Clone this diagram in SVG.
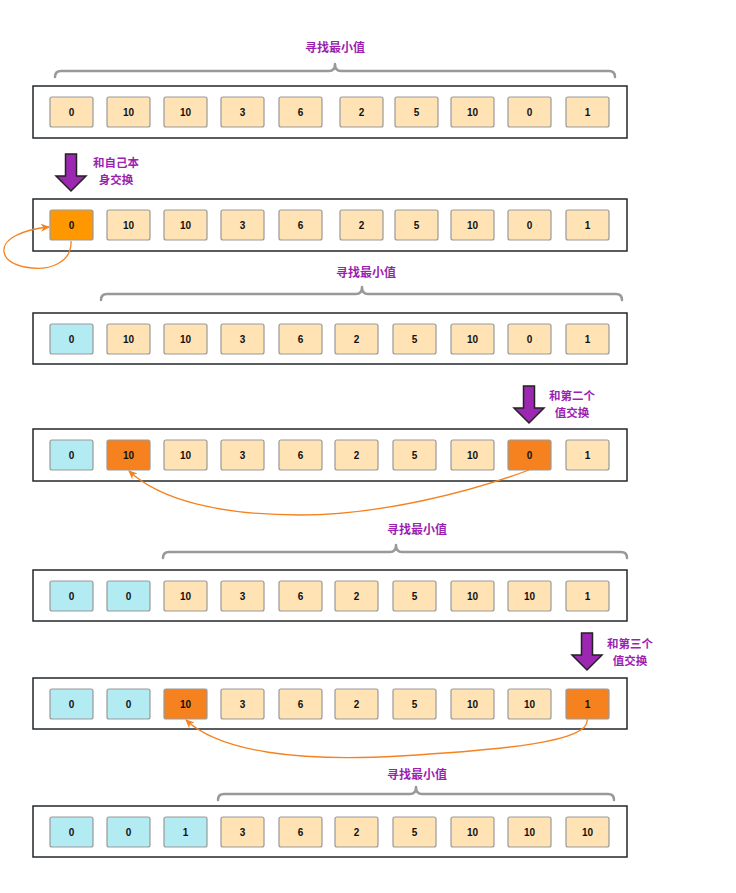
<svg xmlns="http://www.w3.org/2000/svg" width="736" height="893" viewBox="0 0 736 893">
<style>
.row{fill:#fff;stroke:#23272b;stroke-width:1.5}
.c{stroke:#999;stroke-width:1.2}
.n{fill:#FFE3B5}
.b{fill:#B2EBF2}
.o{fill:#F5821F}
.o2{fill:#FF9800}
.t{font-family:"Liberation Sans",Arial,sans-serif;font-size:10px;font-weight:bold;fill:#111;text-anchor:middle;dominant-baseline:central}
.lbl{font-family:"Noto Sans CJK SC","Noto Sans",sans-serif;font-size:12px;font-weight:bold;fill:#9C1FB0;text-anchor:middle}
.lb2{font-size:11.5px}
.brace{fill:none;stroke:#999;stroke-width:2.5;stroke-linecap:round;stroke-linejoin:round}
.arr{fill:#9C27B0;stroke:#222;stroke-width:1.5;stroke-linejoin:miter}
.sw{fill:none;stroke:#F5821F;stroke-width:1.3}
</style>
<defs>
<marker id="ah" markerWidth="10" markerHeight="8" refX="8" refY="4" orient="auto" markerUnits="userSpaceOnUse">
<path d="M0,0 L9,4 L0,8 L2.5,4 Z" fill="#F5821F"/>
</marker>
<g id="arrowshape"><path class="arr" d="M-5.5,0 H5.5 V22 H15 L0,37 L-15,22 H-5.5 Z"/></g>
</defs>

<!-- Braces and labels -->
<g id="brace1">
<text class="lbl" x="335" y="52">寻找最小值</text>
<path class="brace" d="M55,77 Q55,71 61,71 H329 Q335,71 335,64 Q335,71 341,71 H609 Q615,71 615,77"/>
</g>
<g id="brace3">
<text class="lbl" x="366" y="277">寻找最小值</text>
<path class="brace" d="M101,300 Q101,294 107,294 H356 Q362,294 362,287 Q362,294 368,294 H616 Q622,294 622,300"/>
</g>
<g id="brace5">
<text class="lbl" x="417" y="534">寻找最小值</text>
<path class="brace" d="M163,558 Q163,552 169,552 H390 Q396,552 396,545 Q396,552 402,552 H621 Q627,552 627,558"/>
</g>
<g id="brace7">
<text class="lbl" x="417" y="779">寻找最小值</text>
<path class="brace" d="M218,800 Q218,794 224,794 H410 Q416,794 416,787 Q416,794 422,794 H608 Q614,794 614,800"/>
</g>

<!-- Row 1 -->
<g id="row1">
<rect class="row" x="33" y="86" width="594" height="52"/>
<rect class="c n" x="50" y="97" width="43" height="30" rx="2"/><text class="t" x="71.5" y="112">0</text>
<rect class="c n" x="107" y="97" width="43" height="30" rx="2"/><text class="t" x="128.5" y="112">10</text>
<rect class="c n" x="164" y="97" width="43" height="30" rx="2"/><text class="t" x="185.5" y="112">10</text>
<rect class="c n" x="221" y="97" width="43" height="30" rx="2"/><text class="t" x="242.5" y="112">3</text>
<rect class="c n" x="279" y="97" width="43" height="30" rx="2"/><text class="t" x="300.5" y="112">6</text>
<rect class="c n" x="340" y="97" width="43" height="30" rx="2"/><text class="t" x="361.5" y="112">2</text>
<rect class="c n" x="395" y="97" width="43" height="30" rx="2"/><text class="t" x="416.5" y="112">5</text>
<rect class="c n" x="451" y="97" width="43" height="30" rx="2"/><text class="t" x="472.5" y="112">10</text>
<rect class="c n" x="508" y="97" width="43" height="30" rx="2"/><text class="t" x="529.5" y="112">0</text>
<rect class="c n" x="566" y="97" width="43" height="30" rx="2"/><text class="t" x="587.5" y="112">1</text>
</g>

<!-- Arrow 1 -->
<g id="arrow1">
<use href="#arrowshape" x="71" y="154"/>
<text class="lbl lb2" x="116" y="167">和自己本</text>
<text class="lbl lb2" x="116" y="184">身交换</text>
</g>

<!-- Row 2 -->
<g id="row2">
<rect class="row" x="33" y="199" width="594" height="52"/>
<rect class="c o2" x="50" y="210" width="43" height="30" rx="2"/><text class="t" x="71.5" y="225">0</text>
<rect class="c n" x="107" y="210" width="43" height="30" rx="2"/><text class="t" x="128.5" y="225">10</text>
<rect class="c n" x="164" y="210" width="43" height="30" rx="2"/><text class="t" x="185.5" y="225">10</text>
<rect class="c n" x="221" y="210" width="43" height="30" rx="2"/><text class="t" x="242.5" y="225">3</text>
<rect class="c n" x="279" y="210" width="43" height="30" rx="2"/><text class="t" x="300.5" y="225">6</text>
<rect class="c n" x="340" y="210" width="43" height="30" rx="2"/><text class="t" x="361.5" y="225">2</text>
<rect class="c n" x="395" y="210" width="43" height="30" rx="2"/><text class="t" x="416.5" y="225">5</text>
<rect class="c n" x="451" y="210" width="43" height="30" rx="2"/><text class="t" x="472.5" y="225">10</text>
<rect class="c n" x="508" y="210" width="43" height="30" rx="2"/><text class="t" x="529.5" y="225">0</text>
<rect class="c n" x="566" y="210" width="43" height="30" rx="2"/><text class="t" x="587.5" y="225">1</text>
</g>

<!-- Row 3 -->
<g id="row3">
<rect class="row" x="33" y="313" width="594" height="51"/>
<rect class="c b" x="50" y="324" width="43" height="30" rx="2"/><text class="t" x="71.5" y="339">0</text>
<rect class="c n" x="107" y="324" width="43" height="30" rx="2"/><text class="t" x="128.5" y="339">10</text>
<rect class="c n" x="164" y="324" width="43" height="30" rx="2"/><text class="t" x="185.5" y="339">10</text>
<rect class="c n" x="221" y="324" width="43" height="30" rx="2"/><text class="t" x="242.5" y="339">3</text>
<rect class="c n" x="279" y="324" width="43" height="30" rx="2"/><text class="t" x="300.5" y="339">6</text>
<rect class="c n" x="335" y="324" width="43" height="30" rx="2"/><text class="t" x="356.5" y="339">2</text>
<rect class="c n" x="393" y="324" width="43" height="30" rx="2"/><text class="t" x="414.5" y="339">5</text>
<rect class="c n" x="451" y="324" width="43" height="30" rx="2"/><text class="t" x="472.5" y="339">10</text>
<rect class="c n" x="508" y="324" width="43" height="30" rx="2"/><text class="t" x="529.5" y="339">0</text>
<rect class="c n" x="566" y="324" width="43" height="30" rx="2"/><text class="t" x="587.5" y="339">1</text>
</g>

<!-- Arrow 2 -->
<g id="arrow2">
<use href="#arrowshape" x="529" y="386"/>
<text class="lbl lb2" x="572" y="400">和第二个</text>
<text class="lbl lb2" x="572" y="417">值交换</text>
</g>

<!-- Row 4 -->
<g id="row4">
<rect class="row" x="33" y="429" width="594" height="52"/>
<rect class="c b" x="50" y="440" width="43" height="30" rx="2"/><text class="t" x="71.5" y="455">0</text>
<rect class="c o" x="107" y="440" width="43" height="30" rx="2"/><text class="t" x="128.5" y="455">10</text>
<rect class="c n" x="164" y="440" width="43" height="30" rx="2"/><text class="t" x="185.5" y="455">10</text>
<rect class="c n" x="221" y="440" width="43" height="30" rx="2"/><text class="t" x="242.5" y="455">3</text>
<rect class="c n" x="279" y="440" width="43" height="30" rx="2"/><text class="t" x="300.5" y="455">6</text>
<rect class="c n" x="335" y="440" width="43" height="30" rx="2"/><text class="t" x="356.5" y="455">2</text>
<rect class="c n" x="393" y="440" width="43" height="30" rx="2"/><text class="t" x="414.5" y="455">5</text>
<rect class="c n" x="451" y="440" width="43" height="30" rx="2"/><text class="t" x="472.5" y="455">10</text>
<rect class="c o" x="508" y="440" width="43" height="30" rx="2"/><text class="t" x="529.5" y="455">0</text>
<rect class="c n" x="566" y="440" width="43" height="30" rx="2"/><text class="t" x="587.5" y="455">1</text>
</g>

<!-- Row 5 -->
<g id="row5">
<rect class="row" x="33" y="570" width="594" height="51"/>
<rect class="c b" x="50" y="581" width="43" height="30" rx="2"/><text class="t" x="71.5" y="596">0</text>
<rect class="c b" x="107" y="581" width="43" height="30" rx="2"/><text class="t" x="128.5" y="596">0</text>
<rect class="c n" x="164" y="581" width="43" height="30" rx="2"/><text class="t" x="185.5" y="596">10</text>
<rect class="c n" x="221" y="581" width="43" height="30" rx="2"/><text class="t" x="242.5" y="596">3</text>
<rect class="c n" x="279" y="581" width="43" height="30" rx="2"/><text class="t" x="300.5" y="596">6</text>
<rect class="c n" x="335" y="581" width="43" height="30" rx="2"/><text class="t" x="356.5" y="596">2</text>
<rect class="c n" x="393" y="581" width="43" height="30" rx="2"/><text class="t" x="414.5" y="596">5</text>
<rect class="c n" x="451" y="581" width="43" height="30" rx="2"/><text class="t" x="472.5" y="596">10</text>
<rect class="c n" x="508" y="581" width="43" height="30" rx="2"/><text class="t" x="529.5" y="596">10</text>
<rect class="c n" x="566" y="581" width="43" height="30" rx="2"/><text class="t" x="587.5" y="596">1</text>
</g>

<!-- Arrow 3 -->
<g id="arrow3">
<use href="#arrowshape" x="587" y="633"/>
<text class="lbl lb2" x="630" y="648">和第三个</text>
<text class="lbl lb2" x="630" y="665">值交换</text>
</g>

<!-- Row 6 -->
<g id="row6">
<rect class="row" x="33" y="678" width="594" height="51"/>
<rect class="c b" x="50" y="689" width="43" height="30" rx="2"/><text class="t" x="71.5" y="704">0</text>
<rect class="c b" x="107" y="689" width="43" height="30" rx="2"/><text class="t" x="128.5" y="704">0</text>
<rect class="c o" x="164" y="689" width="43" height="30" rx="2"/><text class="t" x="185.5" y="704">10</text>
<rect class="c n" x="221" y="689" width="43" height="30" rx="2"/><text class="t" x="242.5" y="704">3</text>
<rect class="c n" x="279" y="689" width="43" height="30" rx="2"/><text class="t" x="300.5" y="704">6</text>
<rect class="c n" x="335" y="689" width="43" height="30" rx="2"/><text class="t" x="356.5" y="704">2</text>
<rect class="c n" x="393" y="689" width="43" height="30" rx="2"/><text class="t" x="414.5" y="704">5</text>
<rect class="c n" x="451" y="689" width="43" height="30" rx="2"/><text class="t" x="472.5" y="704">10</text>
<rect class="c n" x="508" y="689" width="43" height="30" rx="2"/><text class="t" x="529.5" y="704">10</text>
<rect class="c o" x="566" y="689" width="43" height="30" rx="2"/><text class="t" x="587.5" y="704">1</text>
</g>

<!-- Row 7 -->
<g id="row7">
<rect class="row" x="33" y="806" width="594" height="51"/>
<rect class="c b" x="50" y="817" width="43" height="30" rx="2"/><text class="t" x="71.5" y="832">0</text>
<rect class="c b" x="107" y="817" width="43" height="30" rx="2"/><text class="t" x="128.5" y="832">0</text>
<rect class="c b" x="164" y="817" width="43" height="30" rx="2"/><text class="t" x="185.5" y="832">1</text>
<rect class="c n" x="221" y="817" width="43" height="30" rx="2"/><text class="t" x="242.5" y="832">3</text>
<rect class="c n" x="279" y="817" width="43" height="30" rx="2"/><text class="t" x="300.5" y="832">6</text>
<rect class="c n" x="335" y="817" width="43" height="30" rx="2"/><text class="t" x="356.5" y="832">2</text>
<rect class="c n" x="393" y="817" width="43" height="30" rx="2"/><text class="t" x="414.5" y="832">5</text>
<rect class="c n" x="451" y="817" width="43" height="30" rx="2"/><text class="t" x="472.5" y="832">10</text>
<rect class="c n" x="508" y="817" width="43" height="30" rx="2"/><text class="t" x="529.5" y="832">10</text>
<rect class="c n" x="566" y="817" width="43" height="30" rx="2"/><text class="t" x="587.5" y="832">10</text>
</g>

<!-- Connectors -->
<g id="connectors">
<path class="sw" marker-end="url(#ah)" d="M71,241 C72,262 50,272 25,267 C0,262 -2,245 15,236 C26,230 38,228 49,227"/>
<path class="sw" marker-end="url(#ah)" d="M529,470 C470,492 380,515 300,515 C220,515 160,500 129,471"/>
<path class="sw" marker-end="url(#ah)" d="M587,719 C592,742 500,750 400,756 C300,762 220,752 186,720"/>
</g>
</svg>
